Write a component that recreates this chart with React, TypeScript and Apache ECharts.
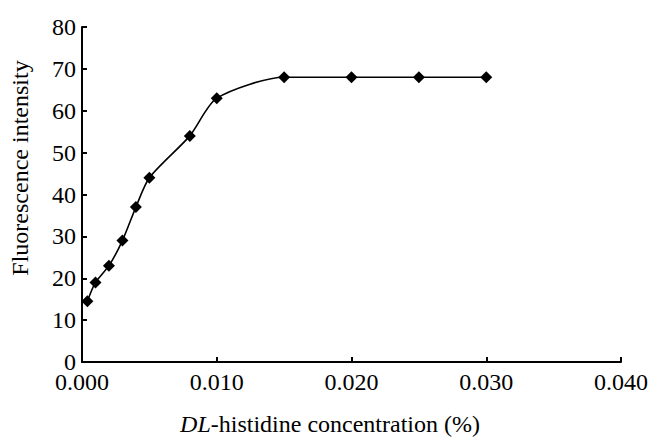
import React, { useEffect, useRef } from "react";
import * as echarts from "echarts";

const concentrations = [0.0004, 0.001, 0.002, 0.003, 0.004, 0.005, 0.008, 0.01, 0.015, 0.02, 0.025, 0.03];
const intensities = [14.5, 19, 23, 29, 37, 44, 54, 63, 68, 68, 68, 68];
const xTitle = "-histidine concentration (%)";
const xTitleItalic = "DL";
const yTitle = "Fluorescence intensity";

const FONT = "'Liberation Serif', 'Times New Roman', serif";

export default function App() {
  const ref = useRef<HTMLDivElement>(null);
  useEffect(() => {
    const chart = echarts.init(ref.current!, null, { renderer: "svg" });
    chart.setOption({
      animation: false,
      backgroundColor: "#ffffff",
      grid: { left: 82, top: 27, right: 24, bottom: 78, containLabel: false },
      xAxis: {
        type: "value",
        min: 0,
        max: 0.04,
        interval: 0.01,
        axisLine: { show: true, lineStyle: { color: "#000", width: 2 } },
        axisTick: { show: true, inside: true, length: 5, lineStyle: { color: "#000", width: 2 } },
        splitLine: { show: false },
        axisLabel: {
          color: "#000",
          fontFamily: FONT,
          fontSize: 24,
          margin: 8,
          showMaxLabel: true,
          formatter: (v: number) => v.toFixed(3),
        },
      },
      yAxis: {
        type: "value",
        min: 0,
        max: 80,
        interval: 10,
        axisLine: { show: true, lineStyle: { color: "#000", width: 2 } },
        axisTick: { show: true, inside: true, length: 5, lineStyle: { color: "#000", width: 2 } },
        splitLine: { show: false },
        axisLabel: { color: "#000", fontFamily: FONT, fontSize: 24, margin: 6 },
      },
      graphic: [
        {
          type: "text",
          x: 20,
          y: 168,
          rotation: Math.PI / 2,
          style: {
            text: yTitle,
            fontFamily: FONT,
            fontSize: 24,
            fill: "#000",
            align: "center",
            verticalAlign: "middle",
          },
        },
        {
          type: "text",
          x: 330,
          y: 424,
          style: {
            text: "{i|" + xTitleItalic + "}" + xTitle,
            fontFamily: FONT,
            fontSize: 24,
            fill: "#000",
            align: "center",
            verticalAlign: "middle",
            rich: {
              i: { fontStyle: "italic", fontFamily: FONT, fontSize: 24, fill: "#000" },
            },
          },
        },
      ],
      series: [
        {
          type: "line",
          data: concentrations.map((c, i) => [c, intensities[i]]),
          smooth: 0.25,
          symbol: "diamond",
          symbolSize: 12,
          itemStyle: { color: "#000" },
          lineStyle: { color: "#000", width: 1.6 },
        },
      ],
    });
    return () => chart.dispose();
  }, []);
  return <div ref={ref} style={{ width: 651, height: 440, position: "absolute", left: 0, top: 0 }} />;
}
